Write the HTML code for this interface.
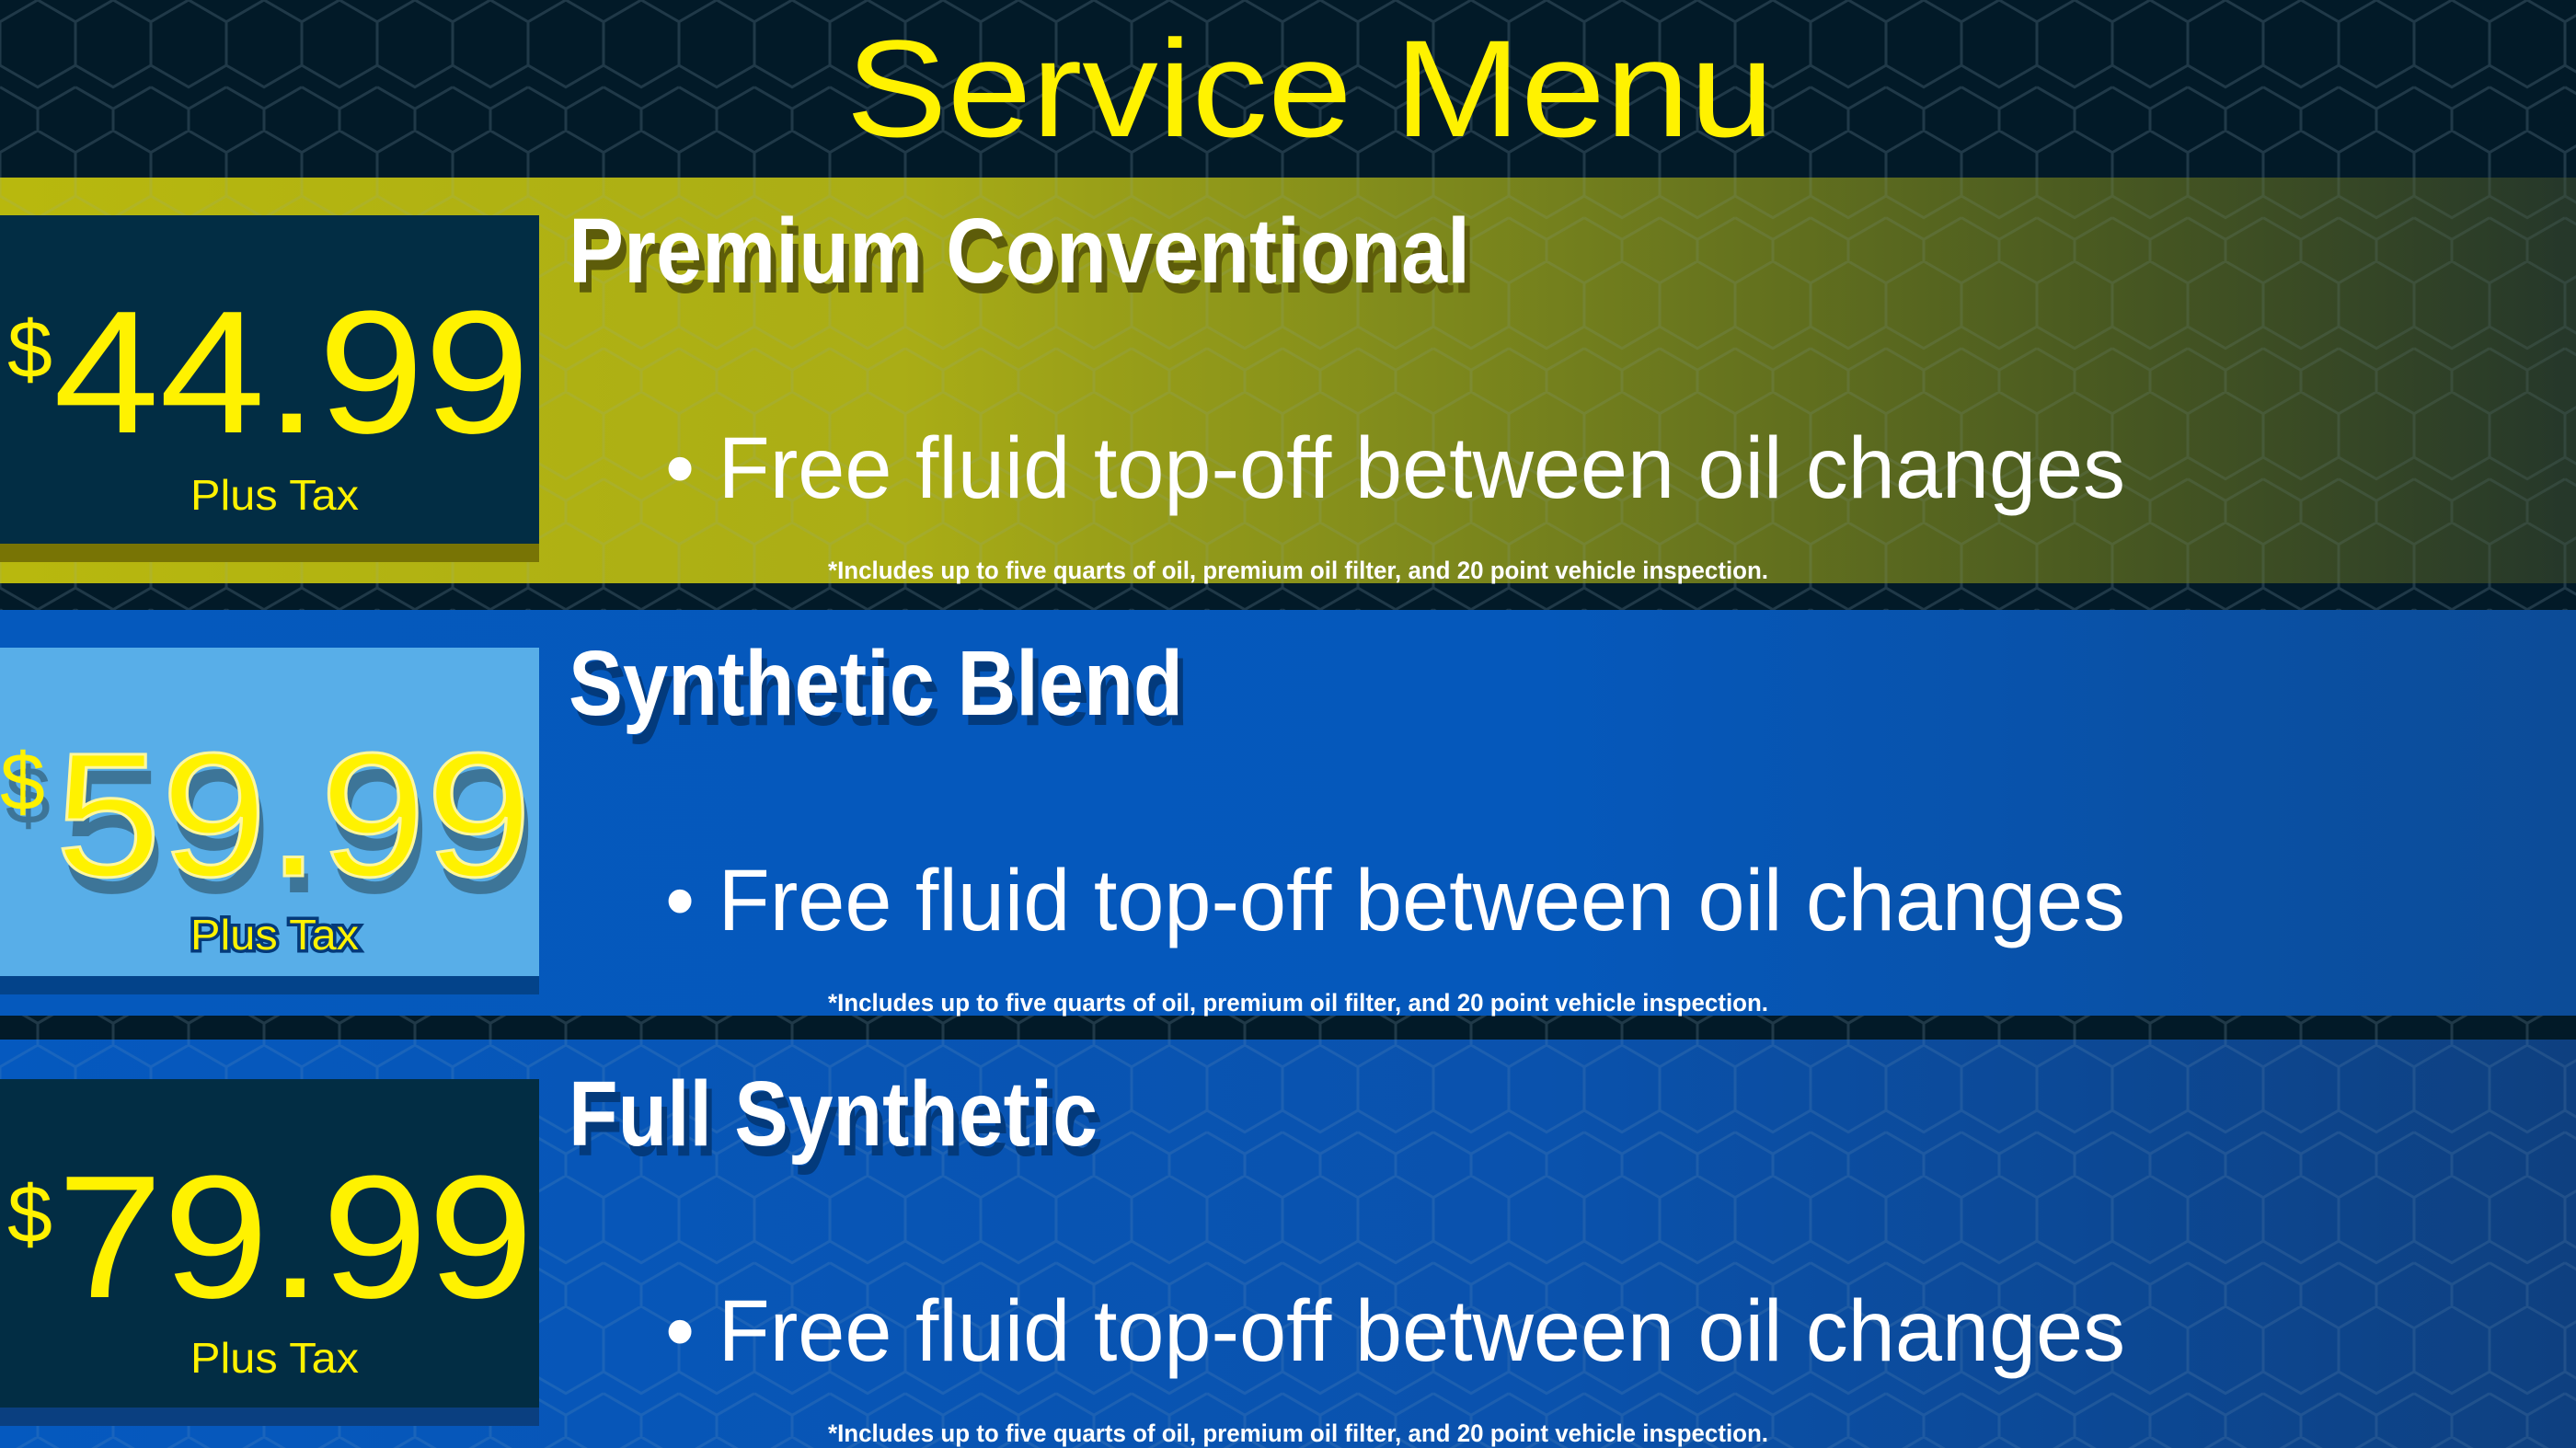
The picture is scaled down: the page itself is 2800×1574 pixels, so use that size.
<!DOCTYPE html>
<html><head><meta charset="utf-8"><style>
html,body{margin:0;padding:0;background:#021a28;}
svg{display:block}
text{font-family:"Liberation Sans",sans-serif;}
</style></head><body>
<svg width="2800" height="1574" viewBox="0 0 2800 1574" xmlns="http://www.w3.org/2000/svg">
<defs>
<pattern id="hex" width="82" height="142" patternUnits="userSpaceOnUse">
<g fill="none" stroke="#8ab" stroke-opacity="0.22" stroke-width="3">
<path d="M41,0 L82,23.7 L82,71 L41,94.7 L0,71 L0,23.7 Z"/>
<path d="M0,94.7 L41,118.3 L41,165.6 M41,118.3 L82,94.7 M0,94.7 L-41,118.3"/>
</g>
</pattern>
<linearGradient id="g1" x1="0" x2="1" y1="0" y2="0">
<stop offset="0" stop-color="#b8b80e"/><stop offset="0.35" stop-color="#aaad16"/>
<stop offset="0.55" stop-color="#7f8a1c"/><stop offset="0.8" stop-color="#4c5c20"/><stop offset="1" stop-color="#25372a"/>
</linearGradient>
<linearGradient id="g2" x1="0" x2="1">
<stop offset="0" stop-color="#0559bd"/><stop offset="0.6" stop-color="#0558bb"/><stop offset="1" stop-color="#0c4c98"/>
</linearGradient>
<linearGradient id="g3" x1="0" x2="1">
<stop offset="0" stop-color="#0559bf"/><stop offset="0.6" stop-color="#0a52ad"/><stop offset="1" stop-color="#0e4080"/>
</linearGradient>
</defs>
<rect width="2800" height="1574" fill="#021a28"/>
<rect width="2800" height="1574" fill="url(#hex)"/>
<text x="1424" y="148" font-size="150" fill="#fff200" text-anchor="middle" textLength="1009" lengthAdjust="spacingAndGlyphs">Service Menu</text>

<rect x="0" y="193" width="2800" height="441" fill="url(#g1)"/>
<rect x="0" y="193" width="2800" height="441" fill="url(#hex)" opacity="0.6"/>
<rect x="0" y="591" width="586" height="20" fill="#787405"/>
<rect x="0" y="234" width="586" height="357" fill="#022d44"/>
<text x="8" y="410" font-size="88" fill="#fff200">$</text>
<text x="58" y="470" font-size="190" fill="#fff200" textLength="518" lengthAdjust="spacingAndGlyphs">44.99</text>
<text x="207" y="554" font-size="46" fill="#fff200" textLength="183" lengthAdjust="spacingAndGlyphs">Plus Tax</text>
<text x="624" y="318" font-size="100" font-weight="bold" fill="#5d5c0a" textLength="980" lengthAdjust="spacingAndGlyphs">Premium Conventional</text>
<text x="618" y="307" font-size="100" font-weight="bold" fill="#fff" textLength="980" lengthAdjust="spacingAndGlyphs">Premium Conventional</text>
<text x="723" y="541" font-size="95" fill="#fff" textLength="1587" lengthAdjust="spacingAndGlyphs">• Free fluid top-off between oil changes</text>
<text x="900" y="629" font-size="27" font-weight="bold" fill="#fff" textLength="1022" lengthAdjust="spacingAndGlyphs">*Includes up to five quarts of oil, premium oil filter, and 20 point vehicle inspection.</text>

<rect x="0" y="663" width="2800" height="441" fill="url(#g2)"/>
<rect x="0" y="1061" width="586" height="20" fill="#03438a"/>
<rect x="0" y="704" width="586" height="357" fill="#58aee8"/>
<text x="6" y="895" font-size="88" fill="#3d7598">$</text>
<text x="66" y="970" font-size="192" fill="#3d7598" textLength="518" lengthAdjust="spacingAndGlyphs">59.99</text>
<text x="0" y="880" font-size="88" fill="#fff200">$</text>
<text x="60" y="952" font-size="192" fill="#fff200" stroke="#fff7a0" stroke-width="3" textLength="518" lengthAdjust="spacingAndGlyphs">59.99</text>
<text x="207" y="1032" font-size="46" fill="#fff200" stroke="#043a7a" stroke-width="7" paint-order="stroke" textLength="183" lengthAdjust="spacingAndGlyphs">Plus Tax</text>
<text x="624" y="788" font-size="100" font-weight="bold" fill="#033a7c" textLength="668" lengthAdjust="spacingAndGlyphs">Synthetic Blend</text>
<text x="618" y="777" font-size="100" font-weight="bold" fill="#fff" textLength="668" lengthAdjust="spacingAndGlyphs">Synthetic Blend</text>
<text x="723" y="1011" font-size="95" fill="#fff" textLength="1587" lengthAdjust="spacingAndGlyphs">• Free fluid top-off between oil changes</text>
<text x="900" y="1099" font-size="27" font-weight="bold" fill="#fff" textLength="1022" lengthAdjust="spacingAndGlyphs">*Includes up to five quarts of oil, premium oil filter, and 20 point vehicle inspection.</text>

<rect x="0" y="1130" width="2800" height="444" fill="url(#g3)"/>
<rect x="0" y="1130" width="2800" height="444" fill="url(#hex)" opacity="0.7"/>
<rect x="0" y="1530" width="586" height="20" fill="#0a3f80"/>
<rect x="0" y="1173" width="586" height="357" fill="#022d44"/>
<text x="8" y="1350" font-size="88" fill="#fff200">$</text>
<text x="62" y="1410" font-size="190" fill="#fff200" textLength="518" lengthAdjust="spacingAndGlyphs">79.99</text>
<text x="207" y="1492" font-size="46" fill="#fff200" textLength="183" lengthAdjust="spacingAndGlyphs">Plus Tax</text>
<text x="624" y="1256" font-size="100" font-weight="bold" fill="#033a7c" textLength="575" lengthAdjust="spacingAndGlyphs">Full Synthetic</text>
<text x="618" y="1245" font-size="100" font-weight="bold" fill="#fff" textLength="575" lengthAdjust="spacingAndGlyphs">Full Synthetic</text>
<text x="723" y="1479" font-size="95" fill="#fff" textLength="1587" lengthAdjust="spacingAndGlyphs">• Free fluid top-off between oil changes</text>
<text x="900" y="1567" font-size="27" font-weight="bold" fill="#fff" textLength="1022" lengthAdjust="spacingAndGlyphs">*Includes up to five quarts of oil, premium oil filter, and 20 point vehicle inspection.</text>
</svg>
</body></html>
